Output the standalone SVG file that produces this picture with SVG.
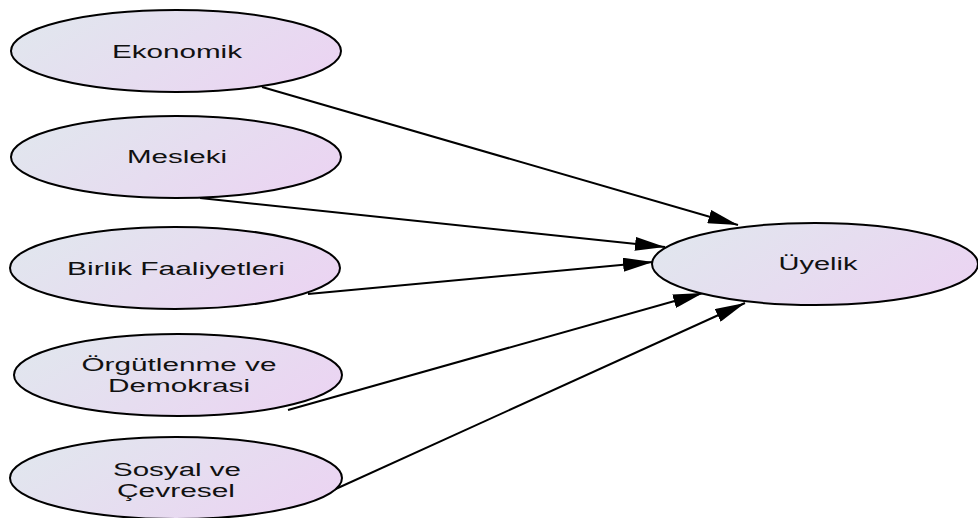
<svg xmlns="http://www.w3.org/2000/svg" width="978" height="518" viewBox="0 0 978 518">
<defs>
<linearGradient id="g" x1="0" y1="0.3" x2="1" y2="0.7">
<stop offset="0" stop-color="#e1e6ee"/>
<stop offset="1" stop-color="#ebd4f2"/>
</linearGradient>
<marker id="ah" markerUnits="userSpaceOnUse" markerWidth="30" markerHeight="14" refX="30" refY="7" orient="auto" viewBox="0 0 30 14">
<path d="M0,0 L30,7 L0,14 z" fill="#000"/>
</marker>
<style>
ellipse{fill:url(#g);stroke:#000;stroke-width:2}
text{font-family:"Liberation Sans",Arial,sans-serif;font-size:18px;fill:#111;text-anchor:middle}
.c line{stroke:#000;stroke-width:2;marker-end:url(#ah)}
</style>
</defs>
<g class="c" id="connectors">
<line x1="262" y1="87" x2="738" y2="225"/>
<line x1="200" y1="198" x2="665" y2="247"/>
<line x1="308" y1="294" x2="653" y2="262"/>
<line x1="288" y1="410" x2="703" y2="293"/>
<line x1="318" y1="497" x2="745" y2="303"/>
</g>
<g id="ekonomik">
<ellipse cx="176" cy="51" rx="165" ry="41"/>
<text x="177" y="58" textLength="130" lengthAdjust="spacingAndGlyphs">Ekonomik</text>
</g>
<g id="mesleki">
<ellipse cx="176" cy="157" rx="165" ry="41"/>
<text x="177" y="163" textLength="100" lengthAdjust="spacingAndGlyphs">Mesleki</text>
</g>
<g id="birlik">
<ellipse cx="175" cy="268" rx="165" ry="41"/>
<text x="176" y="275" textLength="218" lengthAdjust="spacingAndGlyphs">Birlik Faaliyetleri</text>
</g>
<g id="orgutlenme">
<ellipse cx="178" cy="375" rx="164" ry="41"/>
<text x="179" y="371" textLength="195" lengthAdjust="spacingAndGlyphs">Örgütlenme ve</text>
<text x="179" y="392" textLength="142" lengthAdjust="spacingAndGlyphs">Demokrasi</text>
</g>
<g id="sosyal">
<ellipse cx="176" cy="478" rx="166" ry="41"/>
<text x="177" y="476" textLength="128" lengthAdjust="spacingAndGlyphs">Sosyal ve</text>
<text x="176" y="497" textLength="118" lengthAdjust="spacingAndGlyphs">Çevresel</text>
</g>
<g id="uyelik">
<ellipse cx="815" cy="264" rx="163" ry="41"/>
<text x="818" y="270" textLength="79" lengthAdjust="spacingAndGlyphs">Üyelik</text>
</g>
</svg>
